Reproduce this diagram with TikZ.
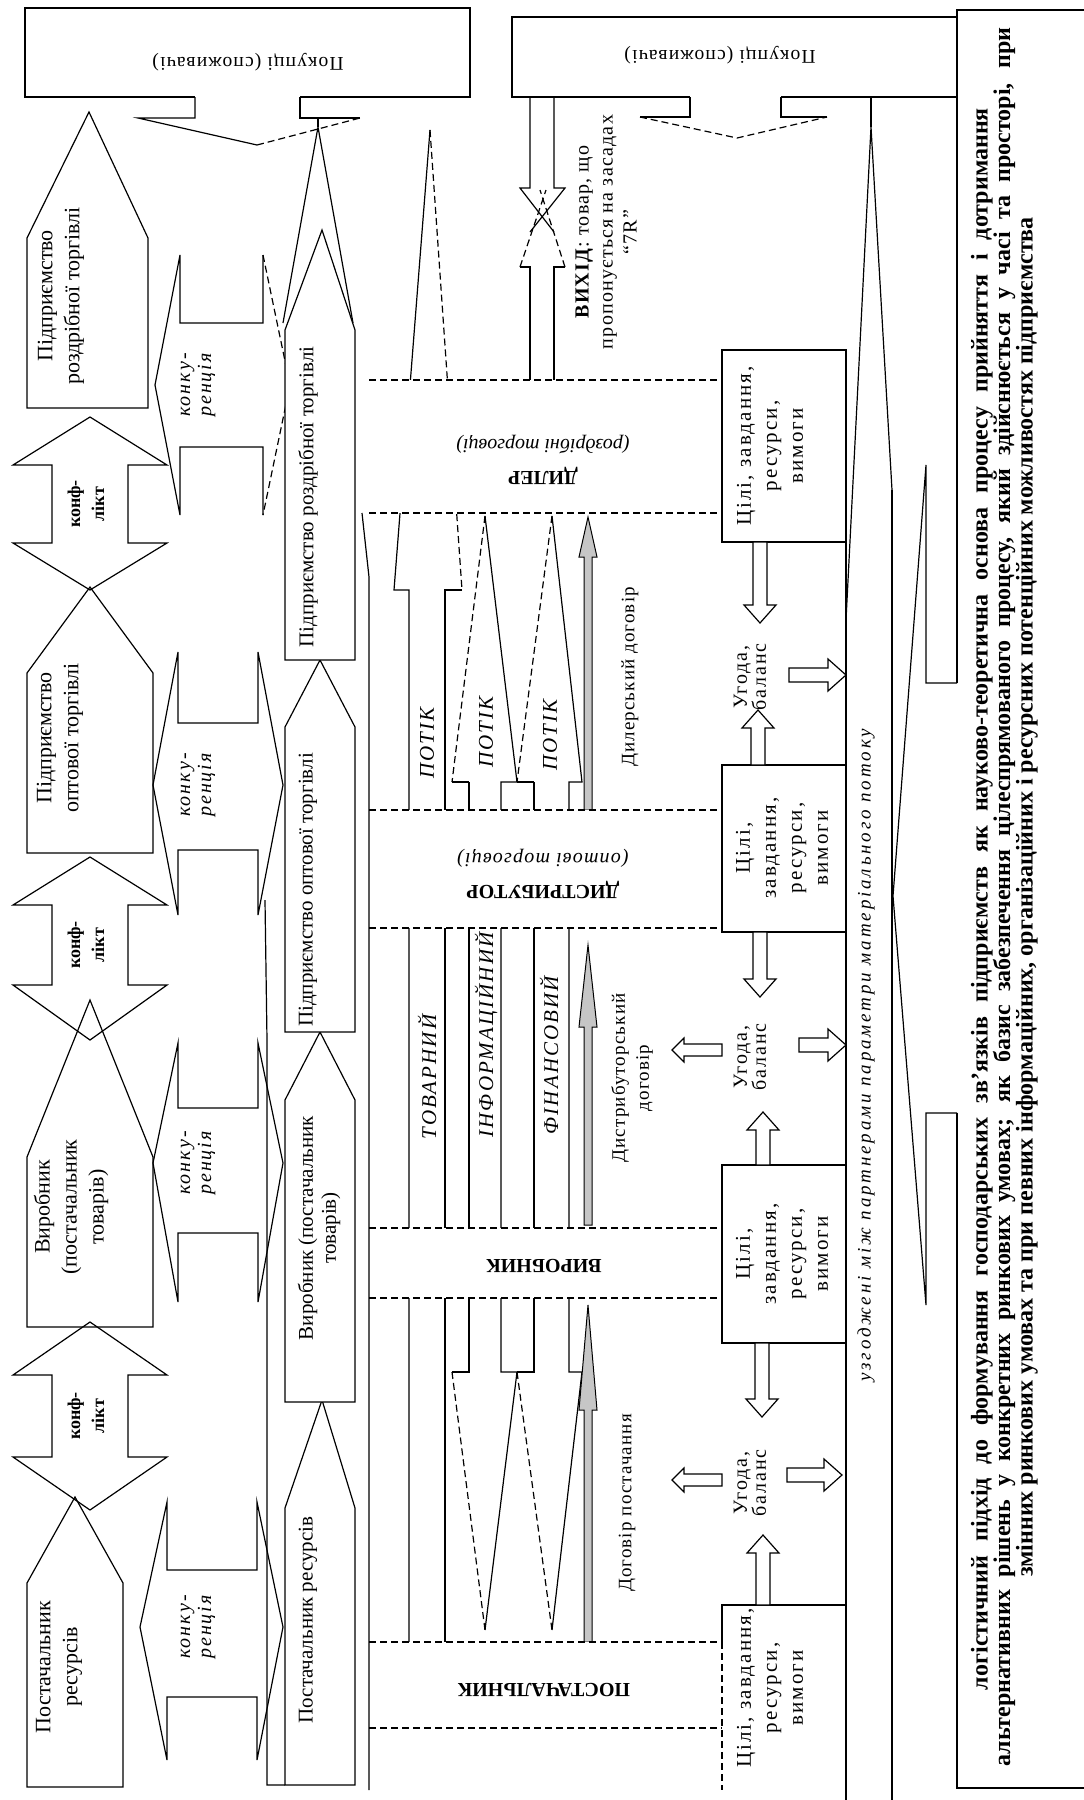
\documentclass[tikz,border=0pt]{standalone}
\usepackage{fontspec}
\setmainfont{Liberation Serif}
\newfontfamily\spaced[LetterSpace=6]{Liberation Serif}
\newfontfamily\wide[LetterSpace=10]{Liberation Serif}
\newfontfamily\wider[LetterSpace=15]{Liberation Serif}
\usetikzlibrary{positioning}
\tikzset{
  pics/blockarr/.style={code={
    \draw[fill=white] (0,-7) -- (#1-18,-7) -- (#1-18,-16) -- (#1,0) -- (#1-18,16) -- (#1-18,7) -- (0,7) -- cycle;}},
  pics/thinarr/.style={code={
    \draw[fill=white] (0,-6) -- (#1-12,-6) -- (#1-12,-12) -- (#1,0) -- (#1-12,12) -- (#1-12,6) -- (0,6) -- cycle;}}
}
\begin{document}
\begin{tikzpicture}[x=1pt,y=-1pt,line width=1.2pt,
  dsh/.style={dash pattern=on 7pt off 4pt},
  lbl/.style={rotate=90,align=center,inner sep=0,font=\fontsize{22}{27}\selectfont},
  lblsm/.style={rotate=90,align=center,inner sep=0,font=\fontsize{21}{23}\selectfont},
  konf/.style={rotate=90,align=center,inner sep=0,font=\bfseries\fontsize{18}{24}\selectfont},
  konk/.style={rotate=90,align=center,inner sep=0,font=\itshape\wide\fontsize{20}{21}\selectfont},
  flow/.style={rotate=90,inner sep=0,font=\itshape\wide\fontsize{21}{22}\selectfont},
  band/.style={rotate=180,align=center,inner sep=0,font=\bfseries\fontsize{20}{32}\selectfont},
  goal/.style={rotate=90,align=center,inner sep=0,font=\wide\fontsize{21}{26}\selectfont},
  deal/.style={rotate=90,align=center,inner sep=0,font=\spaced\fontsize{19}{24}\selectfont},
  ugoda/.style={rotate=90,align=center,inner sep=0,font=\wide\fontsize{20}{19}\selectfont},
  basis/.style={rotate=90,inner sep=0,font=\bfseries\fontsize{24}{24}\selectfont}]
\useasboundingbox (0,0) rectangle (1084,1800);

% buyers
\draw (195,97) -- (25,97) -- (25,8) -- (470,8) -- (470,97) -- (300,97);
\draw (195,97) -- (195,118) -- (138,118) -- (257,145);
\draw[dsh] (257,145) -- (360,118);
\draw (360,118) -- (300,118) -- (300,97);
\node[band,font=\spaced\fontsize{19.5}{24}\selectfont] (buy1) at (248,62) {Покупці (споживачі)};
\draw (690,97) -- (512,97) -- (512,17) -- (957,17) -- (957,97) -- (781,97);
\draw (690,97) -- (690,117) -- (640,117);
\draw[dsh] (640,117) -- (737,138) -- (827,117);
\draw (827,117) -- (781,117) -- (781,97);
\node[band,font=\spaced\fontsize{19.5}{24}\selectfont] (buy2) at (720,55) {Покупці (споживачі)};

% column 1: firms
\draw (27,1787) -- (27,1583) -- (75,1497) -- (123,1583) -- (123,1787) -- cycle;
\node[lbl] (res1) at (59,1667) {Постачальник\\ресурсів};
\draw (27,1327) -- (27,1157) -- (90,1000) -- (153,1157) -- (153,1327) -- cycle;
\node[lbl] (vyr1) at (71,1207) {Виробник\\(постачальник\\товарів)};
\draw (27,853) -- (27,673) -- (90,587) -- (153,673) -- (153,853) -- cycle;
\node[lbl] (opt1) at (60,738) {Підприємство\\оптової торгівлі};
\draw (27,408) -- (27,238) -- (89,112) -- (148,238) -- (148,408) -- cycle;
\node[lbl] (rozd1) at (61,296) {Підприємство\\роздрібної торгівлі};

% conflict arrows
\foreach \ya/\yb/\yc/\yd/\ym in {417/465/543/590/504, 857/905/985/1040/945, 1322/1375/1457/1510/1416}{
  \draw (90,\ya) -- (167,\yb) -- (128,\yb) -- (128,\yc) -- (167,\yc) -- (90,\yd)
     -- (13,\yc) -- (52,\yc) -- (52,\yb) -- (13,\yb) -- cycle;
  \node[konf] (konf\ym) at (86,\ym) {конф-\\лікт};
}

% competition
\foreach \xl/\xr/\yt/\ynt/\ynb/\yb/\xvl/\xvr/\yv in {167/257/1502/1570/1697/1760/140/283/1627,
    178/258/1043/1108/1233/1302/153/283/1163, 178/258/652/723/850/915/153/283/785}{
  \draw (\xl,\ynt) -- (\xr,\ynt) -- (\xr,\yt) -- (\xvr,\yv) -- (\xr,\yb) -- (\xr,\ynb)
     -- (\xl,\ynb) -- (\xl,\yb) -- (\xvl,\yv) -- (\xl,\yt) -- cycle;
  \node[konk] (konk\yv) at (198,\yv) {конку-\\ренція};
}
\draw (263,515) -- (263,447) -- (180,447) -- (180,515) -- (155,385) -- (180,255) -- (180,323) -- (263,323) -- (263,255);
\draw[dsh] (263,255) -- (290,385) -- (263,515);
\node[konk] (konk385) at (198,385) {конку-\\ренція};

% column 3: chain of firms
\draw (265,900) -- (267,1040) -- (267,1785) -- (285,1785);
\draw[fill=white] (285,1785) -- (285,1508) -- (322,1400) -- (355,1508) -- (355,1785) -- cycle;
\node[lblsm] (res3) at (308,1620) {Постачальник ресурсів};
\draw[fill=white] (285,1402) -- (285,1100) -- (320,1032) -- (355,1100) -- (355,1402) -- cycle;
\node[lblsm] (vyr3) at (319,1228) {Виробник (постачальник\\товарів)};
\draw[fill=white] (285,1032) -- (285,727) -- (320,660) -- (355,727) -- (355,1032) -- cycle;
\node[lblsm] (opt3) at (308,890) {Підприємство оптової торгівлі};
\draw (283,323) -- (318,127) -- (353,323);
\draw (318,118) -- (318,127);
\draw[fill=white] (285,660) -- (285,330) -- (322,230) -- (355,330) -- (355,660) -- cycle;
\node[lblsm] (rozd3) at (308,497) {Підприємство роздрібної торгівлі};

% middle: flows
\draw (409,1642) -- (409,590) -- (394,590) -- (430,130);
\draw[dsh] (430,130) -- (462,590);
\draw (462,590) -- (445,590) -- (445,1642);
\foreach \xa/\xb/\xc/\xd/\xt in {452/469/501/517/485, 517/534/569/582/552}{
  \draw (\xb,782) -- (\xb,1372) -- (\xa,1372);
  \draw[dsh] (\xa,1372) -- (\xt,1630);
  \draw (\xt,1630) -- (\xd,1372) -- (\xc,1372) -- (\xc,782) -- (\xd,782) -- (\xt,516);
  \draw[dsh] (\xt,516) -- (\xa,782);
  \draw (\xa,782) -- (\xb,782);
}
\foreach \ya/\yb/\yt in {1642/1410/1305, 1225/1027/945, 810/557/517}{
  \filldraw[fill=gray!45,line width=1pt] (584,\ya) -- (584,\yb) -- (579,\yb) -- (588,\yt)
     -- (597,\yb) -- (592,\yb) -- (592,\ya) -- cycle;
}
\node[flow] (tov) at (427,1077) {ТОВАРНИЙ};
\node[flow] (inf) at (486,1035) {ІНФОРМАЦІЙНИЙ};
\node[flow] (fin) at (549,1055) {ФІНАНСОВИЙ};
\node[flow] (pot1) at (427,743) {ПОТІК};
\node[flow] (pot2) at (486,732) {ПОТІК};
\node[flow] (pot3) at (550,735) {ПОТІК};
\node[deal] (dog1) at (627,1503) {Договір постачання};
\node[deal] (dog2) at (632,1078) {Дистрибуторський\\договір};
\node[deal] (dog3) at (630,677) {Дилерський договір};

% middle: bands
\foreach \ya/\yb in {1642/1728, 1228/1298, 810/928, 380/513}{
  \fill[white] (370,\ya) rectangle (721,\yb);
  \draw[dsh] (369,\ya) -- (722,\ya);
  \draw[dsh] (369,\yb) -- (722,\yb);
}
\node[band] (post) at (544,1690) {ПОСТАЧАЛЬНИК};
\node[band] (vyrb) at (544,1266) {ВИРОБНИК};
\node[band] (dist) at (543,874) {ДИСТРИБУТОР\\{\mdseries\itshape\spaced(оптові торговці)}};
\node[band] (dil) at (543,460) {ДИЛЕР\\{\mdseries\itshape(роздрібні торговці)}};
\draw (369,1790) -- (369,577) -- (362,513);

% exit
\draw (530,97) -- (530,188) -- (520,188) -- (554,232);
\draw (554,97) -- (554,188) -- (565,188) -- (530,232);
\draw[dsh] (520,267) -- (546,190);
\draw[dsh] (565,267) -- (540,190);
\draw (520,267) -- (530,267) -- (530,380);
\draw (565,267) -- (554,267) -- (554,380);
\node[deal,font=\spaced\fontsize{20}{24}\selectfont] (exit) at (606,232) {\textbf{ВИХІД}: товар, що\\пропонується на засадах\\“7R”};

% goals boxes
\draw (722,1642) -- (722,1605) -- (846,1605);
\draw[dsh] (722,1642) -- (722,1790);
\draw (722,1165) rectangle (846,1343);
\draw (722,765) rectangle (846,932);
\draw (722,350) rectangle (846,542);
\draw (846,350) -- (846,1800);
\node[goal] (goal1) at (770,1688) {Цілі, завдання,\\ресурси,\\вимоги};
\node[goal] (goal2) at (782,1254) {Цілі,\\завдання,\\ресурси,\\вимоги};
\node[goal] (goal3) at (782,848) {Цілі,\\завдання,\\ресурси,\\вимоги};
\node[goal] (goal4) at (770,446) {Цілі, завдання,\\ресурси,\\вимоги};
\foreach \yy in {1483, 1057, 677}{
  \node[ugoda] (ugoda\yy) at (750,\yy) {Угода,\\баланс};
}
\pic[rotate=90] at (763,1605) {blockarr=70};
\pic[rotate=-90] at (762,1343) {blockarr=74};
\pic at (787,1475) {blockarr=55};
\pic[rotate=180] at (722,1480) {thinarr=50};
\pic[rotate=-90] at (760,932) {blockarr=65};
\pic[rotate=90] at (763,1165) {blockarr=53};
\pic at (799,1045) {blockarr=47};
\pic[rotate=180] at (722,1050) {thinarr=50};
\pic[rotate=-90] at (760,542) {blockarr=81};
\pic[rotate=90] at (758,765) {blockarr=55};
\pic at (789,675) {blockarr=57};

% agreed parameters column
\draw (846,620) -- (871,127) -- (892,490);
\draw[line width=2pt] (871,97) -- (871,127);
\draw[line width=2.4pt] (892,490) -- (892,1800);
\node[rotate=90,inner sep=0,font=\itshape\wider\fontsize{19}{20}\selectfont] (param) at (866,1055) {узгоджені між партнерами параметри матеріального потоку};

% basis text
\draw (957,683) -- (926,683) -- (926,465) -- (893,896) -- (926,1305) -- (926,1113) -- (957,1113);
\draw (957,683) -- (957,10) -- (1084,10);
\draw (957,1113) -- (957,1788) -- (1084,1788);
\node[basis] (bas1) at (982,899) {\makebox[1582pt][s]{логістичний підхід до формування господарських зв’язків підприємств як науково-теоретична основа процесу прийняття і дотримання}};
\node[basis] (bas2) at (1004,897) {\makebox[1739pt][s]{альтернативних рішень у конкретних ринкових умовах; як базис забезпечення цілеспрямованого процесу, який здійснюється у часі та просторі, при}};
\node[basis] (bas3) at (1027,897) {змінних ринкових умовах та при певних інформаційних, організаційних і ресурсних потенційних можливостях підприємства};
\end{tikzpicture}
\end{document}
